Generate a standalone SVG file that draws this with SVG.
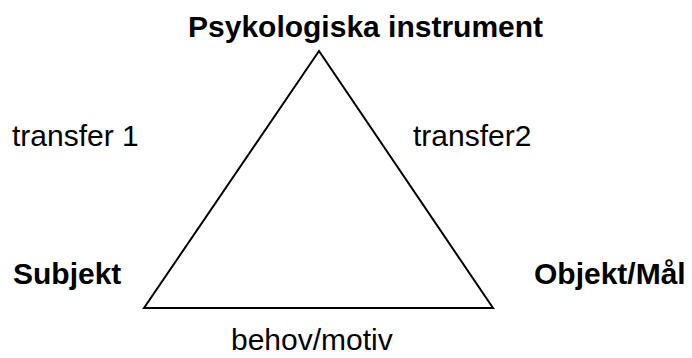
<svg xmlns="http://www.w3.org/2000/svg" width="692" height="358" viewBox="0 0 692 358">
<style>
.t{font-family:"Liberation Sans",Arial,sans-serif;font-size:30px;fill:#000}
.b{font-weight:bold}
.e{fill:none;stroke:#000;stroke-width:2;stroke-linejoin:miter}
</style>
<rect width="692" height="358" fill="#fff"/>
<g id="connectors">
<polygon class="e" points="319,51 144,308 493,308"/>
</g>
<g id="node-instrument"><text class="t b" x="188" y="37">Psykologiska instrument</text></g>
<g id="node-subjekt"><text class="t b" x="13" y="284">Subjekt</text></g>
<g id="node-objekt"><text class="t b" x="534" y="284">Objekt/Mål</text></g>
<g id="label-transfer1"><text class="t" x="12" y="146">transfer 1</text></g>
<g id="label-transfer2"><text class="t" x="413" y="146">transfer2</text></g>
<g id="label-behov"><text class="t" x="231" y="350">behov/motiv</text></g>
</svg>
